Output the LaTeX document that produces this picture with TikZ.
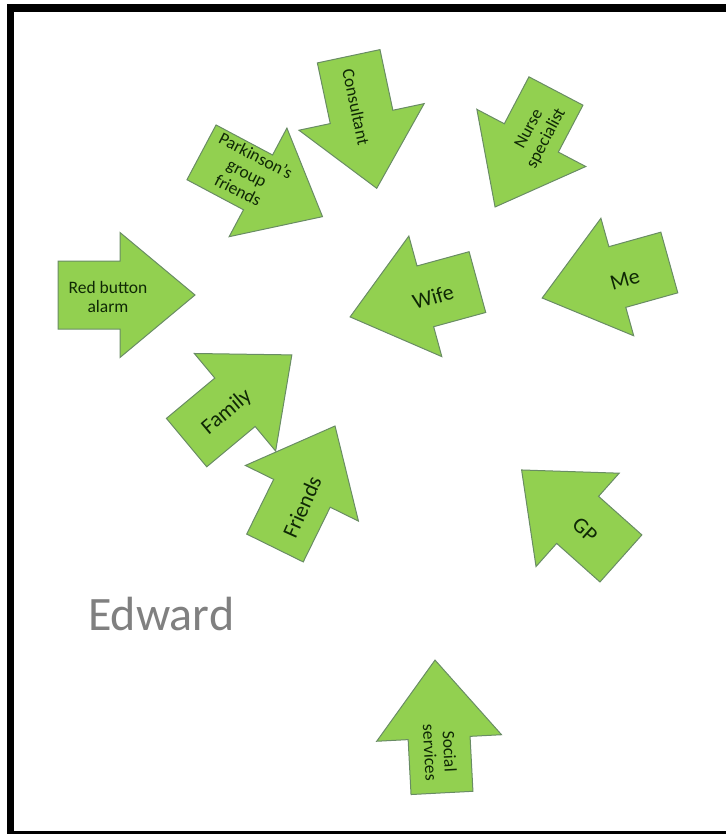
\documentclass[tikz,border=0pt]{standalone}
\usepackage{fontspec}
\setmainfont{Carlito}
\definecolor{arrfill}{HTML}{92D050}
\definecolor{arredge}{RGB}{105,140,100}
\definecolor{txt}{RGB}{15,40,5}
\definecolor{edw}{RGB}{128,128,128}
\tikzset{
  arrowshape/.style={fill=arrfill, draw=arredge, line width=1pt, line join=miter},
  lbl/.style={text=txt, align=center, inner sep=0pt},
  small/.style={font=\fontsize{17.5}{19.5}\selectfont},
  big/.style={font=\fontsize{22}{24}\selectfont},
}
% cx, cy, angle, length, shaft width, head width, head length
\newcommand\greenarrow[7]{%
  \filldraw[arrowshape, shift={(#1,#2)}, rotate=#3]
    (-#4/2,-#5/2) -- (#4/2-#7,-#5/2) -- (#4/2-#7,-#6/2) -- (#4/2,0)
    -- (#4/2-#7,#6/2) -- (#4/2-#7,#5/2) -- (-#4/2,#5/2) -- cycle;}
\begin{document}
\begin{tikzpicture}[x=1pt, y=-1pt]
\useasboundingbox (0,0) rectangle (726,834);
% frame
\fill[black] (7,4) rectangle (726,12);
\fill[black] (7,4) rectangle (14,834);
\fill[black] (7,831) rectangle (726,834);

% arrows
\greenarrow{126.5}{295}{0}{137}{68}{125}{75}
\greenarrow{362.7}{122.3}{-78}{135}{64}{128}{73}
\greenarrow{262}{184.5}{-28}{137}{62}{123}{73}
\greenarrow{525.5}{149}{-117.7}{131}{61}{123}{78}
\greenarrow{413.75}{299.5}{-164.7}{132}{63}{125}{78}
\greenarrow{605.75}{280.25}{-164.4}{132}{63}{122}{78}
\greenarrow{239.2}{398.75}{39.8}{137}{63}{127}{74}
\greenarrow{305}{487}{63.8}{136}{63}{126}{75}
\greenarrow{571.25}{514.2}{138.3}{133}{63}{125}{75}
\greenarrow{438.5}{726.5}{93}{133}{62}{125}{78}

% labels
\node[lbl, small] (red) at (108,297) {Red button\\alarm};
\node[lbl, small, rotate=-78] (consultant) at (356,107) {Consultant};
\node[lbl, small, rotate=-27] (parkinson) at (247,173) {Parkinson’s\\group\\friends};
\node[lbl, small, rotate=62] (nurse) at (538,134) {Nurse\\specialist};
\node[lbl, big, rotate=16] (wife) at (433,297) {Wife};
\node[lbl, big, rotate=16] (me) at (625,280) {Me};
\node[lbl, big, rotate=40] (family) at (227,412) {Family};
\node[lbl, big, rotate=66] (friends) at (302,507) {Friends};
\node[lbl, big, rotate=-42] (gp) at (585,530) {GP};
\node[lbl, small, rotate=-87] (social) at (440,752) {Social\\services};
\node[anchor=base west, text=edw, inner sep=0pt, font=\fontsize{48}{52}\selectfont] (edward) at (88,630) {Edward};
\end{tikzpicture}
\end{document}
